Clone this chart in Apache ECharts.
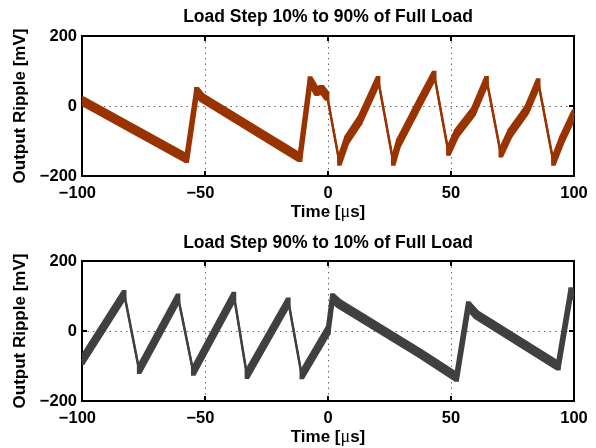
<!DOCTYPE html>
<html>
<head>
<meta charset="utf-8">
<script src="https://cdn.jsdelivr.net/npm/echarts@6/dist/echarts.min.js"></script>
<style>
  html, body { margin: 0; padding: 0; background: #fff; }
  #chart { width: 596px; height: 448px; }
</style>
</head>
<body>
<div id="chart"></div>
<script>
  // breakpoints of the ripple waveform
  const upTime = [-100, -57.4, -53.4, -51.3, -11.4, -7.3, -4.6, -2.6, -0.3, 4.6, 7.6, 13, 20.4, 26.5, 28.6, 37.4, 43.2, 48.9, 52.3, 59.1, 64.5, 70.2, 74, 80.8, 85.5, 91.6, 95, 100]
  const upRipple = [15, -150, 42, 24, -148, 72, 41, 48, 27, -159, -97, -40, 74, -159, -107, 12, 89, -130, -78, -16, 74, -135, -78, -11, 67, -159, -97, -22]
  const downTime = [-100, -82.8, -76.8, -60.9, -54.8, -38.2, -33.0, -16.1, -10.7, 0.1, 1.8, 4.5, 37.4, 52.3, 57.0, 60.4, 93.6, 98.7, 100]
  const downRipple = [-85, 105, -111, 95, -116, 100, -125, 84, -126, 3, 95, 78, -64, -132, 72, 46, -100, 112, 100]
  const titles = ['Load Step 10% to 90% of Full Load', 'Load Step 90% to 10% of Full Load']
  const traceColors = ['#993300', '#404040']

  const font = 'Liberation Sans, Helvetica, Arial, sans-serif'
  const minus = v => v < 0 ? '\u2212' + (-v) : String(v)
  const grids = [
    { left: 82, width: 492, top: 36, height: 140 },
    { left: 82, width: 492, top: 261, height: 140 }
  ]

  const chart = echarts.init(document.getElementById('chart'))

  const tick = {
    show: true,
    inside: true,
    length: 5,
    lineStyle: { color: '#000', width: 2 }
  }
  const noLine = { show: false, onZero: false }
  const dotted = {
    show: true,
    showMinLine: false,
    showMaxLine: false,
    lineStyle: { type: [1.5, 4], color: '#666', width: 1 }
  }

  const xAxes = []
  const yAxes = []
  const series = []
  grids.forEach((g, i) => {
    xAxes.push({
      gridIndex: i,
      type: 'value',
      min: -100,
      max: 100,
      interval: 50,
      name: '{a|Time [}{m|\u03bc}{a|s]}',
      nameLocation: 'middle',
      nameGap: 27,
      nameTextStyle: {
        rich: {
          a: { fontFamily: font, fontWeight: 'bold', fontSize: 17, color: '#000' },
          m: { fontFamily: 'Liberation Serif, serif', fontSize: 18, color: '#000' }
        }
      },
      axisLine: noLine,
      axisTick: tick,
      splitLine: dotted,
      axisLabel: {
        margin: 9,
        color: '#000',
        fontFamily: font,
        fontWeight: 'bold',
        fontSize: 16.5,
        formatter: v => v < 0 ? minus(v) + '\u00a0\u00a0' : String(v)
      }
    })
    xAxes.push({
      gridIndex: i,
      type: 'value',
      position: 'top',
      min: -100,
      max: 100,
      interval: 50,
      axisLine: noLine,
      axisTick: tick,
      axisLabel: { show: false },
      splitLine: { show: false }
    })
    yAxes.push({
      gridIndex: i,
      type: 'value',
      min: -200,
      max: 200,
      interval: 200,
      name: 'Output Ripple [mV]',
      nameLocation: 'middle',
      nameGap: 43,
      nameTextStyle: { fontFamily: font, fontWeight: 'bold', fontSize: 17, color: '#000' },
      axisLine: noLine,
      axisTick: tick,
      splitLine: dotted,
      axisLabel: {
        margin: 5,
        color: '#000',
        fontFamily: font,
        fontWeight: 'bold',
        fontSize: 16.5,
        formatter: minus
      }
    })
    yAxes.push({
      gridIndex: i,
      type: 'value',
      position: 'right',
      min: -200,
      max: 200,
      interval: 200,
      axisLine: noLine,
      axisTick: tick,
      axisLabel: { show: false },
      splitLine: { show: false }
    })
  })

  // noisy band: hull of two small boxes round the segment ends.
  // fast falling edges are clean, the rest carries the noise.
  function band (params, api) {
    const x0 = api.value(0), y0 = api.value(1), x1 = api.value(2), y1 = api.value(3)
    const a = api.coord([x0, y0])
    const b = api.coord([x1, y1])
    const fastFall = (y1 - y0) / (x1 - x0) < -20
    const hx = fastFall ? 0.8 : 2.2
    const hy = fastFall ? 1 : 4.2
    let pts
    if (b[1] <= a[1]) {
      pts = [
        [a[0] - hx, a[1] + hy], [a[0] - hx, a[1] - hy], [b[0] - hx, b[1] - hy],
        [b[0] + hx, b[1] - hy], [b[0] + hx, b[1] + hy], [a[0] + hx, a[1] + hy]
      ]
    } else {
      pts = [
        [a[0] - hx, a[1] - hy], [a[0] + hx, a[1] - hy], [b[0] + hx, b[1] - hy],
        [b[0] + hx, b[1] + hy], [b[0] - hx, b[1] + hy], [a[0] - hx, a[1] + hy]
      ]
    }
    return {
      type: 'polygon',
      shape: { points: pts },
      style: { fill: api.visual('color') }
    }
  }

  const traces = [[upTime, upRipple], [downTime, downRipple]]
  traces.forEach(([t, v], i) => {
    const pts = t.map((x, k) => [x, v[k]])
    const segs = pts.slice(1).map((p, k) => [pts[k][0], pts[k][1], p[0], p[1]])
    series.push({
      type: 'custom',
      xAxisIndex: i * 2,
      yAxisIndex: i * 2,
      renderItem: band,
      encode: { x: [0, 2], y: [1, 3] },
      itemStyle: { color: traceColors[i] },
      clip: true,
      silent: true,
      data: segs
    })
    series.push({
      type: 'line',
      xAxisIndex: i * 2,
      yAxisIndex: i * 2,
      showSymbol: false,
      symbol: 'none',
      lineStyle: { color: traceColors[i], width: 2.5 },
      itemStyle: { color: traceColors[i] },
      silent: true,
      data: pts
    })
  })

  chart.setOption({
    backgroundColor: '#fff',
    animation: false,
    grid: grids.map(g => Object.assign({
      show: true,
      borderColor: '#000',
      borderWidth: 2,
      backgroundColor: '#fff'
    }, g)),
    graphic: titles.map((txt, i) => ({
      type: 'text',
      x: 328,
      y: i === 0 ? 17 : 243,
      style: {
        text: txt,
        fill: '#000',
        font: 'bold 17.5px ' + font,
        textAlign: 'center',
        textVerticalAlign: 'middle'
      }
    })),
    xAxis: xAxes,
    yAxis: yAxes,
    series: series
  })
</script>
</body>
</html>
